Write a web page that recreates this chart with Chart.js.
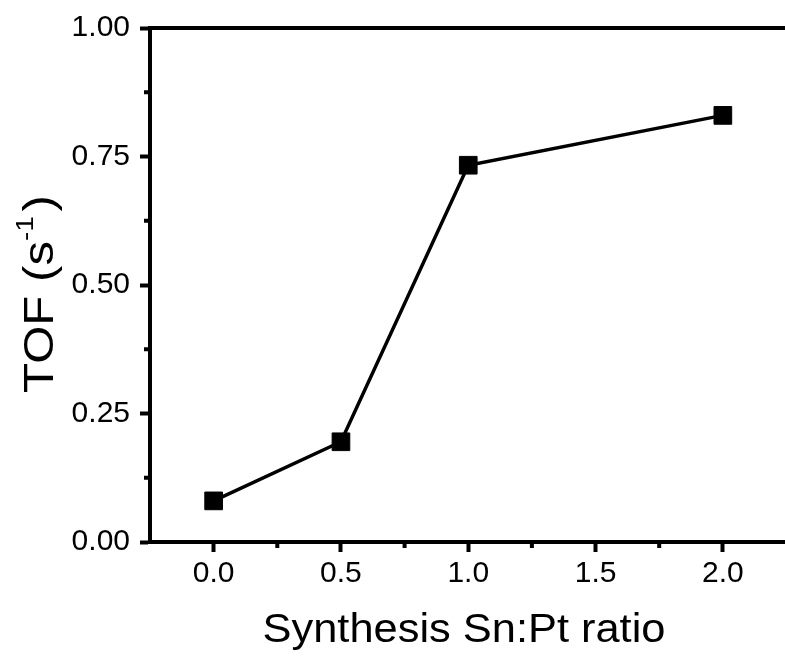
<!DOCTYPE html>
<html>
<head>
<meta charset="utf-8">
<script src="https://cdn.jsdelivr.net/npm/chart.js@4.4.1/dist/chart.umd.min.js"></script>
<style>
  html, body { margin: 0; padding: 0; background: #fff; overflow: hidden; }
  #wrap { width: 800px; height: 658px; }
</style>
</head>
<body>
<div id="wrap"><canvas id="myChart" width="800" height="658"></canvas></div>
<script>
'use strict'

// Sn:Pt ratio used in synthesis vs. turnover frequency
const snPtRatio = [0, 0.5, 1.0, 2.0];
const tofValues = [0.08, 0.195, 0.733, 0.83];

const xTicks = [0, 0.5, 1.0, 1.5, 2.0];
const xMinor = [0.25, 0.75, 1.25, 1.75];
const yTicks = [0, 0.25, 0.5, 0.75, 1.0];
const yMinor = [0.125, 0.375, 0.625, 0.875];

const xTitle = 'Synthesis Sn:Pt ratio';

const FONT = "'Liberation Sans', Arial, sans-serif";

// top frame line, minor ticks and both axis titles (y one has a superscript)
const framePlugin = {
  id: 'frame',
  afterDraw(chart) {
    const ctx = chart.ctx;
    const area = chart.chartArea;
    const xs = chart.scales.x;
    const ys = chart.scales.y;
    ctx.save();
    ctx.strokeStyle = '#000';
    ctx.lineWidth = 4;
    ctx.beginPath();
    ctx.moveTo(area.left - 2, area.top);
    ctx.lineTo(area.right + 2, area.top);
    ctx.stroke();

    ctx.beginPath();
    xMinor.forEach(v => {
      const px = xs.getPixelForValue(v);
      ctx.moveTo(px, area.bottom);
      ctx.lineTo(px, area.bottom + 6);
    });
    yMinor.forEach(v => {
      const py = ys.getPixelForValue(v);
      ctx.moveTo(area.left, py);
      ctx.lineTo(area.left - 6, py);
    });
    ctx.stroke();
    ctx.restore();

    ctx.fillStyle = '#000';
    ctx.textBaseline = 'alphabetic';

    // x title, a little wide like the rest of the lettering
    ctx.save();
    ctx.font = '40px ' + FONT;
    ctx.textAlign = 'center';
    ctx.translate(464, 642);
    ctx.scale(1.085, 1);
    ctx.fillText(xTitle, 0, 0);
    ctx.restore();

    // y title: TOF (s^-1)
    ctx.save();
    const main = '42px ' + FONT;
    const small = '24px ' + FONT;
    ctx.textAlign = 'left';
    ctx.font = main;
    const w1 = ctx.measureText('TOF (s').width;
    const w3 = ctx.measureText(')').width;
    ctx.font = small;
    const w2 = ctx.measureText('-1').width + 4;
    const total = w1 + w2 + w3;
    ctx.translate(53, 294);
    ctx.rotate(-Math.PI / 2);
    ctx.scale(1.17, 1);
    let x = -total / 2;
    ctx.font = main;
    ctx.fillText('TOF (s', x, 0);
    x += w1;
    ctx.font = small;
    ctx.fillText('-1', x, -20);
    x += w2;
    ctx.font = main;
    ctx.fillText(')', x, 0);
    ctx.restore();
  }
};

const DocumentReady = () => {
  const canvas = document.getElementById('myChart');

  const data = {
    datasets: [{
      data: snPtRatio.map((r, i) => ({x: r, y: tofValues[i]})),
      borderColor: '#000',
      backgroundColor: '#000',
      borderWidth: 3.5,
      pointStyle: 'rect',
      pointRadius: 12.5,
      pointBorderWidth: 1,
      pointHoverRadius: 12.5,
      tension: 0
    }]
  };

  new Chart(canvas, {
    type: 'line',
    data: data,
    plugins: [framePlugin],
    options: {
      responsive: false,
      animation: false,
      events: [],
      layout: { padding: { top: 26, right: 11, left: 0, bottom: 0 } },
      plugins: { legend: { display: false }, tooltip: { enabled: false } },
      scales: {
        x: {
          type: 'linear',
          min: -0.25,
          max: 2.25,
          afterBuildTicks: s => { s.ticks = xTicks.map(v => ({value: v})); },
          afterFit: s => { s.height = 116; },
          grid: { drawOnChartArea: false, drawTicks: true, tickLength: 10, tickWidth: 4, tickColor: '#000' },
          border: { display: true, color: '#000', width: 4 },
          ticks: {
            color: '#000',
            padding: 4,
            font: { family: FONT, size: 30 },
            callback: v => v.toFixed(1)
          }
        },
        y: {
          min: 0,
          max: 1,
          afterBuildTicks: s => { s.ticks = yTicks.map(v => ({value: v})); },
          afterFit: s => { s.width = 150; },
          grid: { drawOnChartArea: false, drawTicks: true, tickLength: 10, tickWidth: 4, tickColor: '#000' },
          border: { display: true, color: '#000', width: 4 },
          ticks: {
            color: '#000',
            padding: 10,
            font: { family: FONT, size: 30 },
            callback: v => v.toFixed(2)
          }
        }
      }
    }
  });
}

document.addEventListener("DOMContentLoaded", DocumentReady);
</script>
</body>
</html>
